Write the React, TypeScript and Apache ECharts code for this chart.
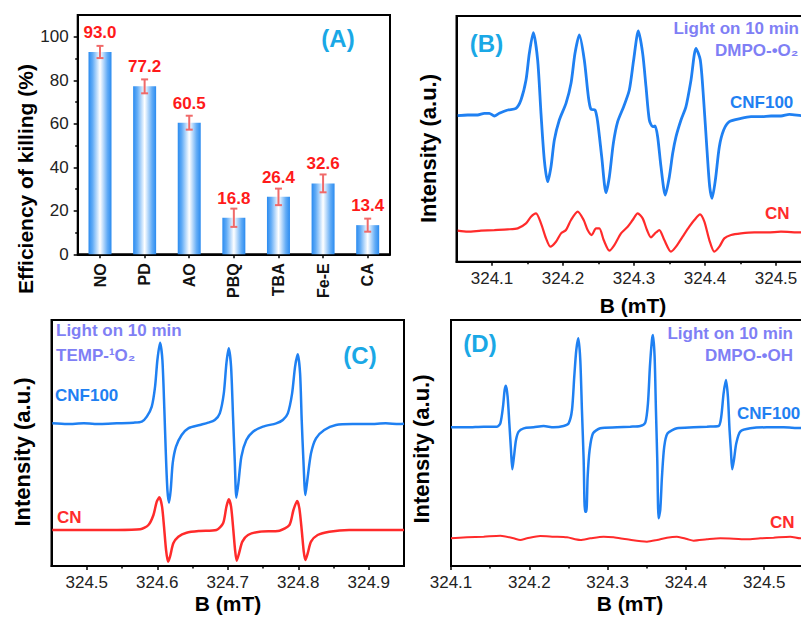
import React, { useEffect, useRef } from 'react';
import * as echarts from 'echarts';

const FONT = '"Liberation Sans", Arial, Helvetica, sans-serif';
const BLUE = '#1f80f2';
const RED = '#ff2b2b';
const LAV = '#7f7ff5';
const CYAN = '#1aa8e6';

// ---------- Panel A ----------
const categories = ['NO', 'PD', 'AO', 'PBQ', 'TBA', 'Fe-E', 'CA'];
const killing = [93.0, 77.2, 60.5, 16.8, 26.4, 32.6, 13.4];
const killingErr = [2.8, 3.2, 3.2, 4.2, 3.8, 4.1, 3.0];
const yTicksA = [0, 20, 40, 60, 80, 100];
const yMinorA = [10, 30, 50, 70, 90];

// ---------- Panel B (DMPO-•O2) ----------
const ticksB = [324.1, 324.2, 324.3, 324.4, 324.5];
const minorB = [324.15, 324.25, 324.35, 324.45];
const bCnf100: number[][] = [
  [324.0516, 43.8], [324.0657, 44.0], [324.0798, 44.0], [324.0892, 44.5], [324.0962, 44.5],
  [324.1033, 43.7], [324.1103, 44.5], [324.1221, 45.5], [324.1338, 46.0], [324.1408, 48.5],
  [324.1479, 54.5], [324.1526, 62.5], [324.1582, 68.7], [324.1643, 60.5], [324.1690, 44.5],
  [324.1737, 30.5], [324.1784, 24.0], [324.1831, 28.5], [324.1878, 36.5], [324.1948, 42.5],
  [324.2042, 47.5], [324.2113, 53.5], [324.2169, 62.5], [324.2230, 68.0], [324.2300, 60.5],
  [324.2357, 49.5], [324.2394, 45.7], [324.2451, 45.5], [324.2488, 42.0], [324.2545, 31.5],
  [324.2606, 20.7], [324.2653, 25.5], [324.2709, 35.5], [324.2770, 42.0], [324.2854, 46.5],
  [324.2934, 51.5], [324.2995, 60.5], [324.3061, 69.2], [324.3122, 62.5], [324.3169, 52.5],
  [324.3216, 42.5], [324.3263, 40.5], [324.3296, 40.7], [324.3333, 37.5], [324.3380, 28.5],
  [324.3441, 20.0], [324.3498, 25.5], [324.3545, 32.5], [324.3592, 37.5], [324.3662, 42.5],
  [324.3732, 46.5], [324.3803, 54.5], [324.3873, 64.0], [324.3934, 60.5], [324.3981, 48.5],
  [324.4028, 33.5], [324.4066, 22.5], [324.4099, 19.0], [324.4146, 24.5], [324.4202, 34.5],
  [324.4263, 39.5], [324.4343, 42.0], [324.4507, 43.0], [324.4648, 43.5], [324.4789, 43.5],
  [324.4930, 43.7], [324.5070, 43.7], [324.5188, 44.2], [324.5352, 43.8], [324.5500, 43.6],
];
const bCn: number[][] = [
  [324.0516, 9.3], [324.0657, 9.0], [324.0845, 9.3], [324.1033, 9.5], [324.1221, 9.7],
  [324.1362, 10.0], [324.1479, 11.5], [324.1549, 13.5], [324.1620, 14.5], [324.1690, 11.5],
  [324.1761, 7.0], [324.1822, 4.5], [324.1901, 6.0], [324.1972, 8.5], [324.2042, 9.5],
  [324.2113, 12.5], [324.2207, 15.0], [324.2291, 12.5], [324.2347, 9.5], [324.2404, 8.0],
  [324.2465, 10.0], [324.2512, 10.0], [324.2573, 6.5], [324.2653, 3.3], [324.2723, 5.0],
  [324.2817, 8.5], [324.2911, 10.5], [324.2981, 12.5], [324.3052, 14.5], [324.3122, 13.0],
  [324.3183, 9.5], [324.3239, 7.3], [324.3296, 8.5], [324.3357, 9.5], [324.3427, 6.5],
  [324.3521, 3.0], [324.3592, 4.5], [324.3685, 7.5], [324.3779, 10.5], [324.3850, 12.5],
  [324.3930, 14.2], [324.3991, 12.0], [324.4061, 6.5], [324.4131, 3.0], [324.4202, 4.5],
  [324.4272, 7.0], [324.4366, 8.0], [324.4507, 8.5], [324.4695, 8.8], [324.4883, 8.8],
  [324.5070, 9.0], [324.5352, 8.8], [324.5500, 8.9],
];

// ---------- Panel C (TEMP-1O2) ----------
const ticksC = [324.5, 324.6, 324.7, 324.8, 324.9];
const minorC = [324.55, 324.65, 324.75, 324.85];
const cCnf100: number[][] = [
  [324.4511, 42.8], [324.4722, 42.6], [324.4958, 42.8], [324.5193, 42.6], [324.5428, 42.8],
  [324.5664, 43.0], [324.5781, 43.3], [324.5852, 44.8], [324.5922, 47.8], [324.5969, 53.8],
  [324.6002, 61.8], [324.6040, 67.0], [324.6073, 61.8], [324.6101, 46.8], [324.6120, 34.8],
  [324.6144, 22.8], [324.6167, 19.0], [324.6191, 22.8], [324.6219, 30.8], [324.6266, 35.8],
  [324.6346, 39.3], [324.6440, 41.3], [324.6605, 42.3], [324.6722, 43.0], [324.6816, 43.8],
  [324.6887, 45.8], [324.6944, 51.8], [324.6981, 60.8], [324.7014, 65.3], [324.7047, 59.8],
  [324.7075, 44.8], [324.7099, 31.8], [324.7122, 20.5], [324.7151, 24.8], [324.7193, 32.8],
  [324.7264, 37.8], [324.7358, 40.3], [324.7499, 41.8], [324.7687, 42.8], [324.7781, 43.8],
  [324.7852, 45.8], [324.7913, 51.8], [324.7955, 59.8], [324.7993, 63.5], [324.8026, 57.8],
  [324.8049, 43.8], [324.8073, 31.8], [324.8101, 21.3], [324.8129, 25.8], [324.8181, 33.8],
  [324.8252, 38.3], [324.8369, 40.8], [324.8534, 42.3], [324.8769, 42.6], [324.9005, 42.6],
  [324.9240, 42.8], [324.9428, 42.6], [324.9500, 42.7],
];
const cCn: number[][] = [
  [324.4511, 10.8], [324.4958, 10.8], [324.5428, 10.8], [324.5758, 11.0], [324.5875, 12.3],
  [324.5946, 15.3], [324.5993, 19.3], [324.6031, 20.6], [324.6068, 17.8], [324.6096, 11.8],
  [324.6125, 4.8], [324.6153, 1.3], [324.6181, 2.8], [324.6228, 6.8], [324.6299, 8.8],
  [324.6416, 10.0], [324.6605, 10.5], [324.6840, 10.8], [324.6934, 12.8], [324.6981, 17.8],
  [324.7014, 20.0], [324.7047, 17.8], [324.7075, 11.8], [324.7104, 4.8], [324.7127, 1.6],
  [324.7160, 3.8], [324.7207, 7.3], [324.7287, 9.3], [324.7452, 10.3], [324.7734, 10.6],
  [324.7875, 12.3], [324.7932, 16.8], [324.7984, 19.5], [324.8016, 17.3], [324.8049, 10.8],
  [324.8078, 4.3], [324.8101, 1.8], [324.8134, 3.8], [324.8181, 7.3], [324.8275, 9.3],
  [324.8440, 10.3], [324.8722, 10.8], [324.9428, 10.8], [324.9500, 10.8],
];

// ---------- Panel D (DMPO-•OH) ----------
const ticksD = [324.1, 324.2, 324.3, 324.4, 324.5];
const minorD = [324.15, 324.25, 324.35, 324.45];
const dCnf100: number[][] = [
  [324.1000, 41.6], [324.1204, 41.6], [324.1417, 41.8], [324.1587, 41.8], [324.1630, 42.8],
  [324.1664, 47.8], [324.1685, 52.8], [324.1702, 54.1], [324.1723, 50.8], [324.1745, 42.8],
  [324.1766, 34.8], [324.1783, 29.0], [324.1804, 32.8], [324.1830, 37.8], [324.1864, 40.3],
  [324.1928, 41.3], [324.2055, 41.6], [324.2183, 42.0], [324.2311, 41.6], [324.2438, 42.0],
  [324.2502, 42.8], [324.2545, 46.8], [324.2574, 56.8], [324.2600, 64.8], [324.2626, 68.3],
  [324.2651, 61.8], [324.2672, 46.8], [324.2694, 31.8], [324.2711, 16.3], [324.2728, 16.3],
  [324.2745, 26.8], [324.2770, 34.8], [324.2813, 39.8], [324.2906, 41.3], [324.3119, 41.6],
  [324.3289, 41.8], [324.3417, 42.0], [324.3481, 43.0], [324.3515, 48.8], [324.3540, 59.8],
  [324.3566, 67.8], [324.3579, 69.3], [324.3600, 62.8], [324.3617, 46.8], [324.3634, 31.8],
  [324.3651, 14.3], [324.3672, 16.8], [324.3694, 26.8], [324.3723, 35.8], [324.3766, 39.8],
  [324.3885, 41.3], [324.4098, 41.6], [324.4268, 41.8], [324.4417, 42.0], [324.4451, 44.8],
  [324.4481, 51.8], [324.4511, 55.8], [324.4536, 50.8], [324.4557, 40.8], [324.4574, 34.8],
  [324.4591, 29.0], [324.4613, 31.8], [324.4643, 36.8], [324.4694, 40.3], [324.4821, 41.3],
  [324.5034, 41.6], [324.5247, 41.6], [324.5460, 41.4], [324.5500, 41.5],
];
const dCn: number[][] = [
  [324.1000, 8.3], [324.1204, 8.6], [324.1417, 8.8], [324.1630, 9.1], [324.1800, 8.3],
  [324.1885, 7.8], [324.1970, 8.3], [324.2140, 9.0], [324.2311, 8.8], [324.2481, 8.6],
  [324.2651, 7.8], [324.2779, 8.3], [324.2949, 8.8], [324.3077, 8.6], [324.3247, 8.0],
  [324.3502, 7.3], [324.3630, 7.8], [324.3757, 8.5], [324.3885, 8.8], [324.4013, 8.1],
  [324.4098, 7.6], [324.4268, 8.0], [324.4438, 8.3], [324.4609, 8.2], [324.4779, 8.0],
  [324.4949, 8.3], [324.5119, 8.5], [324.5332, 8.8], [324.5460, 8.3], [324.5500, 8.4],
];

function gridBox(left: number, top: number, width: number, height: number) {
  return {
    left, top, width, height,
    show: true,
    borderColor: '#000',
    borderWidth: 2,
    backgroundColor: 'transparent',
    containLabel: false,
    outerBoundsMode: 'none',
  };
}

function majorX(gridIndex: number, min: number, max: number, ticks: number[]) {
  return {
    type: 'value', gridIndex, min, max, position: 'bottom',
    axisLine: { show: true, onZero: false, lineStyle: { color: '#000', width: 2 } },
    axisTick: { show: true, customValues: ticks, length: 4, lineStyle: { color: '#000', width: 1.5 } },
    axisLabel: {
      show: true, customValues: ticks, margin: 8,
      color: '#222', fontSize: 17, fontFamily: FONT,
      formatter: (v: number) => v.toFixed(1),
    },
    splitLine: { show: false },
  };
}

function minorX(gridIndex: number, min: number, max: number, ticks: number[]) {
  return {
    type: 'value', gridIndex, min, max, position: 'bottom',
    axisLine: { show: false, onZero: false },
    axisTick: { show: true, customValues: ticks, length: 2.5, lineStyle: { color: '#000', width: 1.5 } },
    axisLabel: { show: false },
    splitLine: { show: false },
  };
}

function hiddenY(gridIndex: number, max: number) {
  return {
    type: 'value', gridIndex, min: 0, max, position: 'left',
    axisLine: { show: true, onZero: false, lineStyle: { color: '#000', width: 2 } },
    axisTick: { show: false },
    axisLabel: { show: false },
    splitLine: { show: false },
  };
}

function txt(text: string, x: number, y: number, fill: string, fontSize: number, align = 'left', rotation = 0) {
  return {
    type: 'text', x, y, rotation, silent: true, z: 100,
    style: {
      text, fill, fontSize, fontWeight: 'bold', fontFamily: FONT,
      align, verticalAlign: 'middle',
    },
  };
}

function lineSeries(name: string, xi: number, yi: number, data: number[][], color: string, width: number) {
  return {
    name, type: 'line', xAxisIndex: xi, yAxisIndex: yi, data,
    showSymbol: false, symbol: 'none', smooth: 0.25,
    lineStyle: { color, width },
    z: 5,
  };
}

export default function App() {
  const ref = useRef<HTMLDivElement>(null);
  useEffect(() => {
    document.body.style.margin = '0';
    if (!ref.current) return;
    const chart = echarts.init(ref.current, undefined, { renderer: 'svg' });

    const barGradient = new echarts.graphic.LinearGradient(0, 0, 1, 0, [
      { offset: 0, color: '#2a8bf0' },
      { offset: 0.18, color: '#62acf6' },
      { offset: 0.5, color: '#ffffff' },
      { offset: 0.82, color: '#62acf6' },
      { offset: 1, color: '#2a8bf0' },
    ]);

    const option: any = {
      animation: false,
      backgroundColor: '#fff',
      grid: [
        gridBox(77.7, 15, 312.3, 239.3),
        gridBox(456.5, 16, 355, 245.7),
        gridBox(51.5, 320, 352.5, 246),
        gridBox(451, 320, 352.4, 246),
      ],
      xAxis: [
        {
          type: 'category', gridIndex: 0, data: categories, position: 'bottom',
          axisLine: { show: true, onZero: false, lineStyle: { color: '#000', width: 2 } },
          axisTick: { show: true, alignWithLabel: true, length: 4, lineStyle: { color: '#000', width: 1.5 } },
          axisLabel: {
            rotate: 90, margin: 9, color: '#111', fontSize: 16, fontWeight: 'bold', fontFamily: FONT,
          },
          splitLine: { show: false },
        },
        majorX(1, 324.05, 324.55, ticksB),
        minorX(1, 324.05, 324.55, minorB),
        majorX(2, 324.45, 324.95, ticksC),
        minorX(2, 324.45, 324.95, minorC),
        majorX(3, 324.1, 324.55, ticksD),
        minorX(3, 324.1, 324.55, minorD),
      ],
      yAxis: [
        {
          type: 'value', gridIndex: 0, min: 0, max: 110, position: 'left',
          axisLine: { show: true, onZero: false, lineStyle: { color: '#000', width: 2 } },
          axisTick: { show: true, customValues: yTicksA, length: 4, lineStyle: { color: '#000', width: 1.5 } },
          axisLabel: { show: true, customValues: yTicksA, margin: 9, color: '#222', fontSize: 17, fontFamily: FONT },
          splitLine: { show: false },
        },
        {
          type: 'value', gridIndex: 0, min: 0, max: 110, position: 'left',
          axisLine: { show: false, onZero: false },
          axisTick: { show: true, customValues: yMinorA, length: 2.5, lineStyle: { color: '#000', width: 1.5 } },
          axisLabel: { show: false },
          splitLine: { show: false },
        },
        hiddenY(1, 73.7),
        hiddenY(2, 73.8),
        hiddenY(3, 73.8),
      ],
      series: [
        {
          name: 'Efficiency', type: 'bar', xAxisIndex: 0, yAxisIndex: 0,
          data: killing, barWidth: 23,
          itemStyle: { color: barGradient },
          label: {
            show: true, position: 'top', distance: 11,
            color: '#ff1a1a', fontSize: 17, fontWeight: 'bold', fontFamily: FONT,
            formatter: (p: any) => Number(p.value).toFixed(1),
          },
          z: 2,
        },
        {
          name: 'Error', type: 'custom', xAxisIndex: 0, yAxisIndex: 0,
          data: killing.map((v, i) => [i, v, killingErr[i]]),
          encode: { x: 0, y: 1 },
          z: 10,
          renderItem: (_params: any, api: any) => {
            const i = api.value(0);
            const v = api.value(1);
            const e = api.value(2);
            const top = api.coord([i, v + e]);
            const bot = api.coord([i, v - e]);
            const hw = 3.5;
            const style = { stroke: '#f06a6a', lineWidth: 2 };
            return {
              type: 'group',
              children: [
                { type: 'line', shape: { x1: top[0], y1: top[1], x2: bot[0], y2: bot[1] }, style },
                { type: 'line', shape: { x1: top[0] - hw, y1: top[1], x2: top[0] + hw, y2: top[1] }, style },
                { type: 'line', shape: { x1: bot[0] - hw, y1: bot[1], x2: bot[0] + hw, y2: bot[1] }, style },
              ],
            };
          },
        },
        lineSeries('B CNF100', 1, 2, bCnf100, BLUE, 2.8),
        lineSeries('B CN', 1, 2, bCn, RED, 2.2),
        lineSeries('C CNF100', 3, 3, cCnf100, BLUE, 2.5),
        lineSeries('C CN', 3, 3, cCn, RED, 2.5),
        lineSeries('D CNF100', 5, 4, dCnf100, BLUE, 2.5),
        lineSeries('D CN', 5, 4, dCn, RED, 2),
      ],
      graphic: [
        // Panel A
        txt('(A)', 338, 38, CYAN, 24, 'center'),
        txt('Efficiency of killing (%)', 25, 179, '#000', 21, 'center', Math.PI / 2),
        // Panel B
        txt('(B)', 486.5, 43, CYAN, 24, 'center'),
        txt('Light on 10 min', 799, 28, LAV, 17, 'right'),
        txt('DMPO-•O₂', 715, 50, LAV, 17),
        txt('CNF100', 730, 102, BLUE, 17),
        txt('CN', 765, 213, RED, 17),
        txt('Intensity (a.u.)', 428, 148.5, '#000', 22, 'center', Math.PI / 2),
        txt('B (mT)', 633, 305, '#000', 21, 'center'),
        // Panel C
        txt('(C)', 360, 355, CYAN, 24, 'center'),
        txt('Light on 10 min', 56, 330, LAV, 17),
        txt('TEMP-¹O₂', 56, 355, LAV, 17),
        txt('CNF100', 55, 395, BLUE, 17),
        txt('CN', 57, 517, RED, 17),
        txt('Intensity (a.u.)', 22, 452, '#000', 22, 'center', Math.PI / 2),
        txt('B (mT)', 228, 603, '#000', 21, 'center'),
        // Panel D
        txt('(D)', 480, 343, CYAN, 24, 'center'),
        txt('Light on 10 min', 793, 333, LAV, 17, 'right'),
        txt('DMPO-•OH', 793, 355, LAV, 17, 'right'),
        txt('CNF100', 737, 413, BLUE, 17),
        txt('CN', 770, 522, RED, 17),
        txt('Intensity (a.u.)', 421, 449, '#000', 22, 'center', Math.PI / 2),
        txt('B (mT)', 630, 603, '#000', 21, 'center'),
      ],
    };

    chart.setOption(option);
    return () => {
      chart.dispose();
    };
  }, []);

  return <div ref={ref} style={{ width: 801, height: 618 }} />;
}
